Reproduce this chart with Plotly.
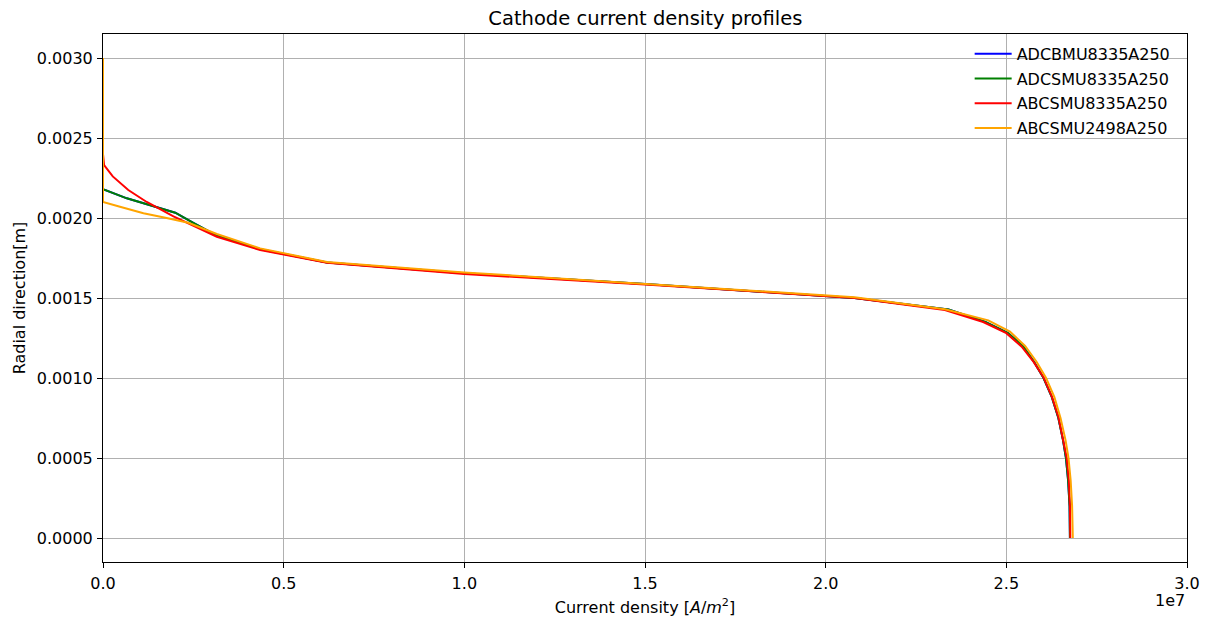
import plotly.graph_objects as go

# ---- data ----
series_names = ["ADCBMU8335A250", "ADCSMU8335A250", "ABCSMU8335A250", "ABCSMU2498A250"]
series_colors = ["blue", "green", "red", "orange"]

green_x = [0, 0, 0.66e6, 1.3e6, 2.0e6, 2.5e6, 3.15e6, 4.35e6, 5.45e6, 6.2e6, 1.0e7, 1.5e7, 2.08e7,
           2.34e7, 2.442e7, 2.505e7, 2.546e7, 2.577e7, 2.603e7, 2.626e7, 2.644e7, 2.657e7, 2.665e7,
           2.671e7, 2.675e7, 2.676e7]
green_y = [0.003, 0.00218, 0.002123, 0.00208, 0.002033, 0.00197, 0.00189, 0.001805, 0.001755, 0.001722,
           0.001655, 0.001587, 0.0015, 0.001428, 0.00135, 0.00128, 0.0012, 0.0011, 0.001, 0.00088,
           0.00075, 0.00061, 0.0005, 0.00036, 0.0002, 0.0]

blue_x = list(green_x)
blue_y = list(green_y)

red_x = [0, 0, 0.03e6, 0.27e6, 0.70e6, 1.21e6, 1.95e6, 2.41e6, 3.15e6, 4.35e6, 5.45e6, 6.2e6, 1.0e7,
         1.5e7, 2.08e7, 2.33e7, 2.436e7, 2.5e7, 2.5425e7, 2.575e7, 2.602e7, 2.626e7, 2.644e7, 2.658e7,
         2.667e7, 2.673e7, 2.676e7, 2.677e7]
red_y = [0.003, 0.0024, 0.00233, 0.00226, 0.002175, 0.0021, 0.00201, 0.00196, 0.001883, 0.0018,
         0.00175, 0.00172, 0.00165, 0.001585, 0.0015, 0.001425, 0.00135, 0.00128, 0.001196, 0.001102,
         0.001008, 0.000883, 0.000758, 0.000613, 0.000502, 0.00036, 0.000196, 0.0]

orange_x = [0, 0, 0.47e6, 1.12e6, 1.76e6, 2.36e6, 3.15e6, 4.35e6, 5.45e6, 6.2e6, 1.0e7, 1.5e7, 2.08e7,
            2.33e7, 2.45e7, 2.51e7, 2.552e7, 2.584e7, 2.61e7, 2.633e7, 2.65e7, 2.664e7, 2.672e7,
            2.678e7, 2.682e7, 2.684e7]
orange_y = [0.003, 0.0021, 0.00207, 0.00203, 0.002, 0.00197, 0.0019, 0.00181, 0.00176, 0.001725,
            0.00166, 0.00159, 0.001505, 0.00143, 0.00136, 0.00129, 0.0012, 0.0011, 0.001, 0.00088,
            0.00075, 0.00061, 0.0005, 0.00036, 0.0002, 0.0]

x_tickvals = [0, 0.5e7, 1.0e7, 1.5e7, 2.0e7, 2.5e7, 3.0e7]
x_ticktext = ["0.0", "0.5", "1.0", "1.5", "2.0", "2.5", "3.0"]
y_tickvals = [0.0, 0.0005, 0.0010, 0.0015, 0.0020, 0.0025, 0.0030]

FONT = "DejaVu Sans"

fig = go.Figure()
all_x = [blue_x, green_x, red_x, orange_x]
all_y = [blue_y, green_y, red_y, orange_y]
for i, (name, color, xs, ys) in enumerate(zip(series_names, series_colors, all_x, all_y)):
    fig.add_trace(go.Scatter(x=xs, y=ys, mode="lines", name=name,
                             line=dict(color=color, width=2), legendgroup=f"g{i}"))

axis_common = dict(
    showline=True, linecolor="black", linewidth=1, mirror=True,
    ticks="outside", ticklen=5, tickcolor="black", tickwidth=1,
    showgrid=True, gridcolor="#b0b0b0", gridwidth=1, zeroline=False,
    tickfont=dict(family=FONT, size=16, color="black"),
    layer="below traces", automargin=False,
)

fig.update_layout(
    width=1207, height=619,
    margin=dict(l=103, r=20, t=34, b=57),
    paper_bgcolor="white", plot_bgcolor="white",
    font=dict(family=FONT, color="black"),
    title=dict(text="Cathode current density profiles", x=0.5347, xanchor="center",
               y=0.97, yanchor="middle", font=dict(family=FONT, size=19.5, color="black")),
    xaxis=dict(range=[0, 3.0e7], tickvals=x_tickvals, ticktext=x_ticktext,
               ticklabelstandoff=2,
               title=dict(text="Current density [<i>A</i>/<i>m</i><sup>2</sup>]",
                          font=dict(family=FONT, size=16), standoff=9),
               **axis_common),
    yaxis=dict(range=[-0.00015, 0.00315], tickvals=y_tickvals, tickformat=".4f",
               ticklabelstandoff=1,
               title=dict(text="Radial direction[m]", font=dict(family=FONT, size=16), standoff=7),
               **axis_common),
    legend=dict(x=0.7995, y=0.9948, xanchor="left", yanchor="top", bgcolor="rgba(0,0,0,0)",
                borderwidth=0, font=dict(family=FONT, size=16, color="black"),
                tracegroupgap=1, itemwidth=37),
    showlegend=True,
)

fig.add_annotation(text="1e7", xref="paper", yref="paper", x=1.0, y=-0.072,
                   xanchor="right", yanchor="middle", showarrow=False,
                   font=dict(family=FONT, size=16, color="black"))

fig.write_html("out.html", config={"displayModeBar": False},
               post_script="document.body.style.margin='0px';")
